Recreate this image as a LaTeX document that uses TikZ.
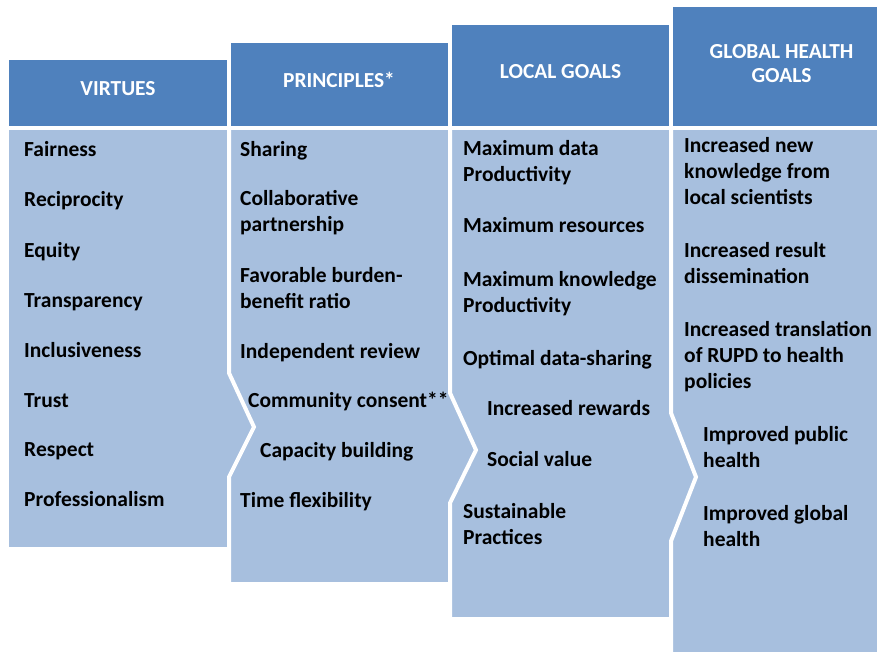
\documentclass[tikz,border=0pt]{standalone}
\usepackage{fontspec}
\setmainfont{Carlito}
\usepackage{xcolor}
\definecolor{headblue}{RGB}{79,129,189}
\definecolor{bodyblue}{RGB}{167,191,222}

\begin{document}
\begin{tikzpicture}
[
x=1pt, y=-1pt,
head-a/.style={white, font=\bfseries\fontsize{21.4}{24.5}\selectfont, align=center, inner sep=0pt},
item-a/.style={black, font=\bfseries\fontsize{21.5}{26}\selectfont, align=left, anchor=base west, inner sep=0pt},
gap-a/.style={white, line width=4pt}
]
\clip (0,0) rectangle (877,652);
\fill[white] (0,0) rectangle (877,652);

% header bars, stepping up to the right
\fill[headblue] (9,60)  rectangle (227,126);
\fill[headblue] (231,43) rectangle (448,126);
\fill[headblue] (452,25) rectangle (669,126);
\fill[headblue] (673,7)  rectangle (900,126);

% column bodies
\fill[bodyblue] (9,130)   rectangle (229,547);
\fill[bodyblue] (229,130) rectangle (450,582);
\fill[bodyblue] (450,130) rectangle (671,617);
\fill[bodyblue] (671,130) rectangle (900,660);

% white chevron gaps between the bodies
\draw[gap-a] (229,128) -- (229,373) -- (254,427) -- (229,477) -- (229,590);
\draw[gap-a] (450,128) -- (450,393) -- (476,450) -- (450,503) -- (450,625);
\draw[gap-a] (671,128) -- (671,413) -- (696,477) -- (671,541) -- (671,660);

% headers
\node (head-1) [head-a] at (118,88.5) {VIRTUES};
\node (head-2) [head-a] at (339,79.5) {PRINCIPLES*};
\node (head-3) [head-a] at (560.5,71.5) {LOCAL GOALS};
\node (head-4) [head-a] at (781.5,63.5) {GLOBAL HEALTH\\GOALS};

% virtues (y = baseline of the last line)
\node (virt-1) [item-a] at (24,157) {Fairness};
\node (virt-2) [item-a] at (24,207) {Reciprocity};
\node (virt-3) [item-a] at (24,257) {Equity};
\node (virt-4) [item-a] at (24,307) {Transparency};
\node (virt-5) [item-a] at (24,357) {Inclusiveness};
\node (virt-6) [item-a] at (24,407) {Trust};
\node (virt-7) [item-a] at (24,456) {Respect};
\node (virt-8) [item-a] at (24,506) {Professionalism};

% principles
\node (prin-1) [item-a] at (240,157) {Sharing};
\node (prin-2) [item-a] at (240,232) {Collaborative\\partnership};
\node (prin-3) [item-a] at (240,308) {Favorable burden-\\benefit ratio};
\node (prin-4) [item-a] at (240,358) {Independent review};
\node (prin-5) [item-a] at (248,407) {Community consent**};
\node (prin-6) [item-a] at (260,457) {Capacity building};
\node (prin-7) [item-a] at (240,507) {Time flexibility};

% local goals
\node (locl-1) [item-a] at (463,182) {Maximum data\\Productivity};
\node (locl-2) [item-a] at (463,233) {Maximum resources};
\node (locl-3) [item-a] at (463,312) {Maximum knowledge\\Productivity};
\node (locl-4) [item-a] at (463,365) {Optimal data-sharing};
\node (locl-5) [item-a] at (487,415) {Increased rewards};
\node (locl-6) [item-a] at (487,466) {Social value};
\node (locl-7) [item-a] at (463,544) {Sustainable\\Practices};

% global health goals
\node (glob-1) [item-a] at (684,205) {Increased new\\knowledge from\\local scientists};
\node (glob-2) [item-a] at (684,283) {Increased result\\dissemination};
\node (glob-3) [item-a] at (684,388) {Increased translation\\of RUPD to health\\policies};
\node (glob-4) [item-a] at (703,467) {Improved public\\health};
\node (glob-5) [item-a] at (703,546) {Improved global\\health};
\end{tikzpicture}
\end{document}
